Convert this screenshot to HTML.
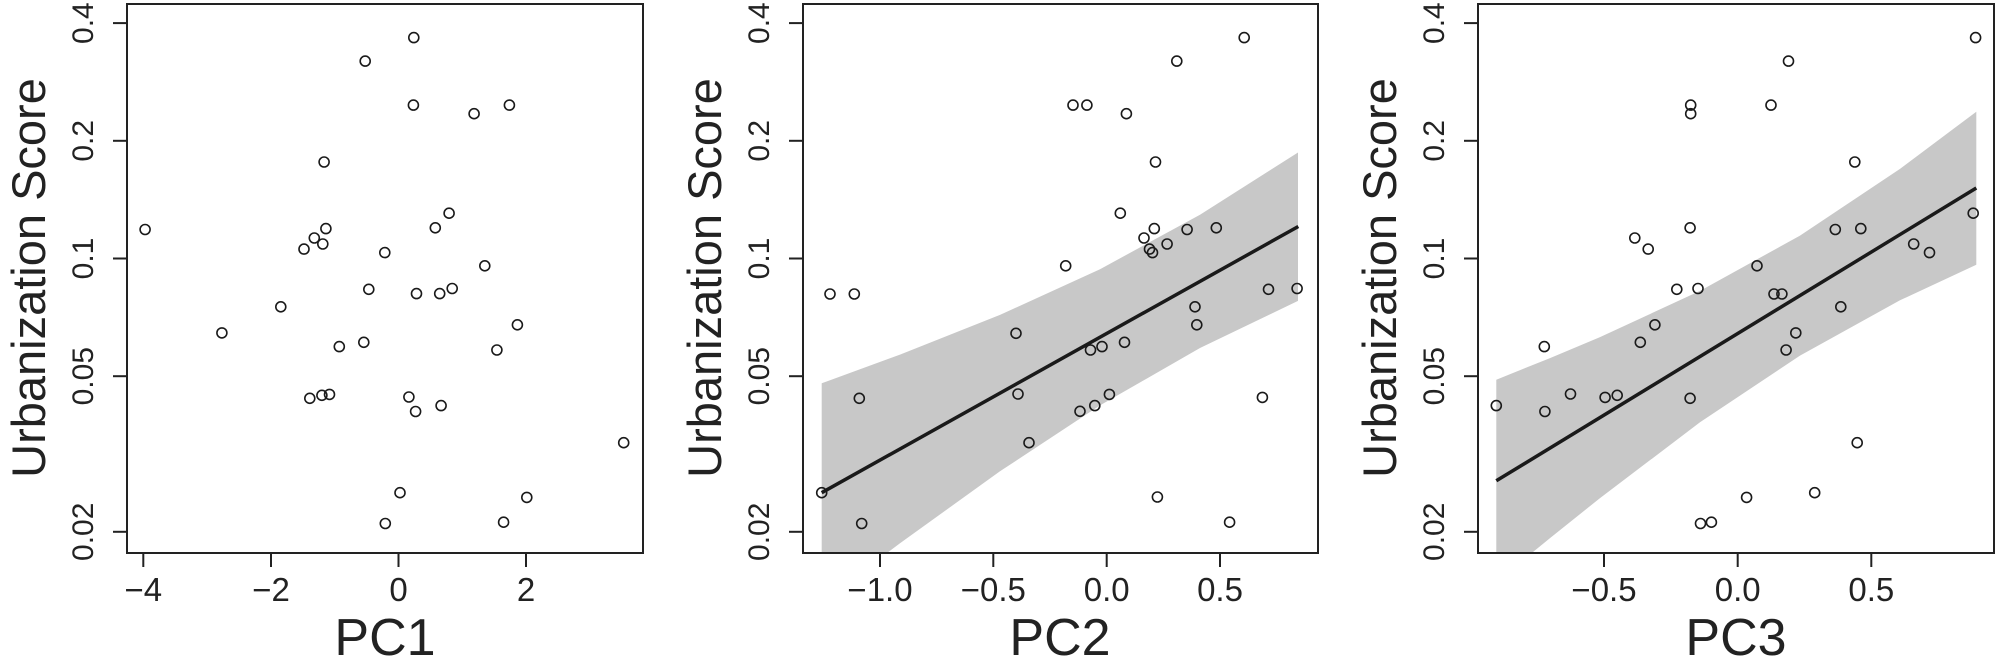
<!DOCTYPE html>
<html><head><meta charset="utf-8"><style>
html,body{margin:0;padding:0;background:#fff;}
svg{display:block;}
text{font-family:"Liberation Sans",Arial,sans-serif;fill:#222;}
.tk{font-size:33px;}
.yt{font-size:30px;}
.ti{font-size:47px;}
.xt{font-size:52px;}
circle{fill:none;stroke:#1a1a1a;stroke-width:1.6;}
</style></head><body>
<svg width="2000" height="670" viewBox="0 0 2000 670" xmlns="http://www.w3.org/2000/svg">
<defs>
<clipPath id="c2"><rect x="803" y="4" width="515" height="549"/></clipPath>
<clipPath id="c3"><rect x="1478" y="4" width="516" height="549"/></clipPath>
</defs>

<!-- Panel 1 -->
<g>
<rect x="127" y="4" width="516" height="549" fill="none" stroke="#222" stroke-width="2"/>
<g stroke="#222" stroke-width="2">
<line x1="113" y1="23.1" x2="127" y2="23.1"/><line x1="113" y1="140.8" x2="127" y2="140.8"/><line x1="113" y1="258.5" x2="127" y2="258.5"/><line x1="113" y1="376.2" x2="127" y2="376.2"/><line x1="113" y1="531.8" x2="127" y2="531.8"/>
<line x1="143.3" y1="553" x2="143.3" y2="567"/><line x1="271" y1="553" x2="271" y2="567"/><line x1="398.5" y1="553" x2="398.5" y2="567"/><line x1="526" y1="553" x2="526" y2="567"/>
</g>
<g class="yt" text-anchor="middle">
<text transform="translate(93,23.1) rotate(-90)">0.4</text>
<text transform="translate(93,140.8) rotate(-90)">0.2</text>
<text transform="translate(93,258.5) rotate(-90)">0.1</text>
<text transform="translate(93,376.2) rotate(-90)">0.05</text>
<text transform="translate(93,531.8) rotate(-90)">0.02</text>
</g>
<g class="tk" text-anchor="middle">
<text x="143.3" y="601">−4</text><text x="271" y="601">−2</text><text x="398.5" y="601">0</text><text x="526" y="601">2</text>
</g>
<text class="ti" text-anchor="middle" transform="translate(45,278) rotate(-90)">Urbanization Score</text>
<text class="xt" text-anchor="middle" x="385" y="655">PC1</text>
<g>
<circle cx="413.8" cy="37.6" r="5"/><circle cx="365.2" cy="61.1" r="5"/><circle cx="413.4" cy="105.1" r="5"/><circle cx="509.4" cy="105.1" r="5"/><circle cx="474.1" cy="113.7" r="5"/><circle cx="324.1" cy="162" r="5"/><circle cx="449.1" cy="213.2" r="5"/><circle cx="435.3" cy="227.8" r="5"/><circle cx="145.1" cy="229.5" r="5"/><circle cx="325.9" cy="228.6" r="5"/><circle cx="314.3" cy="238" r="5"/><circle cx="322.8" cy="244" r="5"/><circle cx="304" cy="249.1" r="5"/><circle cx="384.8" cy="252.6" r="5"/><circle cx="484.8" cy="265.8" r="5"/><circle cx="368.8" cy="289.3" r="5"/><circle cx="416.5" cy="293.6" r="5"/><circle cx="439.7" cy="293.6" r="5"/><circle cx="452.2" cy="288.5" r="5"/><circle cx="280.8" cy="306.8" r="5"/><circle cx="517.4" cy="324.8" r="5"/><circle cx="221.9" cy="332.9" r="5"/><circle cx="363.8" cy="342.3" r="5"/><circle cx="339.3" cy="346.6" r="5"/><circle cx="496.9" cy="350" r="5"/><circle cx="309.8" cy="398.3" r="5"/><circle cx="321.9" cy="395.3" r="5"/><circle cx="329.5" cy="394.4" r="5"/><circle cx="408.9" cy="397" r="5"/><circle cx="415.6" cy="411.5" r="5"/><circle cx="441.1" cy="405.6" r="5"/><circle cx="623.7" cy="442.7" r="5"/><circle cx="400" cy="492.7" r="5"/><circle cx="526.8" cy="497.4" r="5"/><circle cx="385.3" cy="523.5" r="5"/><circle cx="503.6" cy="522.2" r="5"/>
</g>
</g>

<!-- Panel 2 -->
<g>
<g clip-path="url(#c2)">
<polygon fill="#c8c8c8" points="821.7,383.3 900,354.6 1000,314.9 1100,269.2 1200,214.8 1298,152.5 1298,300.9 1200,348 1100,405.4 1000,471.3 900,543.2 821.7,602.1"/>
<line x1="821.7" y1="492.7" x2="1298.3" y2="226.5" stroke="#1a1a1a" stroke-width="3.5"/>
</g>
<rect x="803" y="4" width="515" height="549" fill="none" stroke="#222" stroke-width="2"/>
<g stroke="#222" stroke-width="2">
<line x1="789" y1="23.1" x2="803" y2="23.1"/><line x1="789" y1="140.8" x2="803" y2="140.8"/><line x1="789" y1="258.5" x2="803" y2="258.5"/><line x1="789" y1="376.2" x2="803" y2="376.2"/><line x1="789" y1="531.8" x2="803" y2="531.8"/>
<line x1="880" y1="553" x2="880" y2="567"/><line x1="993.3" y1="553" x2="993.3" y2="567"/><line x1="1106.7" y1="553" x2="1106.7" y2="567"/><line x1="1220" y1="553" x2="1220" y2="567"/>
</g>
<g class="yt" text-anchor="middle">
<text transform="translate(769,23.1) rotate(-90)">0.4</text>
<text transform="translate(769,140.8) rotate(-90)">0.2</text>
<text transform="translate(769,258.5) rotate(-90)">0.1</text>
<text transform="translate(769,376.2) rotate(-90)">0.05</text>
<text transform="translate(769,531.8) rotate(-90)">0.02</text>
</g>
<g class="tk" text-anchor="middle">
<text x="880" y="601">−1.0</text><text x="993.3" y="601">−0.5</text><text x="1106.7" y="601">0.0</text><text x="1220" y="601">0.5</text>
</g>
<text class="ti" text-anchor="middle" transform="translate(721,278) rotate(-90)">Urbanization Score</text>
<text class="xt" text-anchor="middle" x="1060" y="655">PC2</text>
<g>
<circle cx="830" cy="294" r="5"/><circle cx="854.3" cy="294" r="5"/><circle cx="1065.7" cy="265.8" r="5"/><circle cx="1073" cy="105.1" r="5"/><circle cx="1016" cy="333.3" r="5"/><circle cx="859.3" cy="398.3" r="5"/><circle cx="1018" cy="394" r="5"/><circle cx="1029" cy="442.7" r="5"/><circle cx="1080" cy="411.3" r="5"/><circle cx="821.7" cy="492.7" r="5"/><circle cx="861.7" cy="523.5" r="5"/>
<circle cx="1244.2" cy="37.6" r="5"/><circle cx="1176.8" cy="61.1" r="5"/><circle cx="1086.9" cy="105.1" r="5"/><circle cx="1126.4" cy="113.7" r="5"/><circle cx="1155.5" cy="162" r="5"/><circle cx="1120.3" cy="213.2" r="5"/><circle cx="1154.3" cy="228.6" r="5"/><circle cx="1187.1" cy="229.5" r="5"/><circle cx="1216.3" cy="227.8" r="5"/><circle cx="1144" cy="238" r="5"/><circle cx="1167.1" cy="244" r="5"/><circle cx="1149.5" cy="249.1" r="5"/><circle cx="1152.5" cy="252.6" r="5"/><circle cx="1268.5" cy="289.3" r="5"/><circle cx="1297.1" cy="288.5" r="5"/><circle cx="1195" cy="306.8" r="5"/><circle cx="1196.8" cy="324.8" r="5"/><circle cx="1124.5" cy="342.3" r="5"/><circle cx="1090.5" cy="350" r="5"/><circle cx="1102" cy="346.6" r="5"/><circle cx="1262.4" cy="397.4" r="5"/><circle cx="1109.4" cy="394.4" r="5"/><circle cx="1094.8" cy="405.6" r="5"/><circle cx="1157.4" cy="497" r="5"/><circle cx="1229.6" cy="522.2" r="5"/>
</g>
</g>

<!-- Panel 3 -->
<g>
<g clip-path="url(#c3)">
<polygon fill="#c8c8c8" points="1496.3,379.7 1550,358.1 1600,337.1 1700,290.9 1800,235.6 1900,168.9 1976.3,111.7 1976.3,264.7 1900,300.3 1800,355.6 1700,422.3 1600,498.1 1550,538.1 1496.3,582"/>
<line x1="1496.3" y1="480.8" x2="1976.3" y2="188" stroke="#1a1a1a" stroke-width="3.5"/>
</g>
<rect x="1478" y="4" width="516" height="549" fill="none" stroke="#222" stroke-width="2"/>
<g stroke="#222" stroke-width="2">
<line x1="1464" y1="23.1" x2="1478" y2="23.1"/><line x1="1464" y1="140.8" x2="1478" y2="140.8"/><line x1="1464" y1="258.5" x2="1478" y2="258.5"/><line x1="1464" y1="376.2" x2="1478" y2="376.2"/><line x1="1464" y1="531.8" x2="1478" y2="531.8"/>
<line x1="1604" y1="553" x2="1604" y2="567"/><line x1="1737.7" y1="553" x2="1737.7" y2="567"/><line x1="1871.3" y1="553" x2="1871.3" y2="567"/>
</g>
<g class="yt" text-anchor="middle">
<text transform="translate(1444,23.1) rotate(-90)">0.4</text>
<text transform="translate(1444,140.8) rotate(-90)">0.2</text>
<text transform="translate(1444,258.5) rotate(-90)">0.1</text>
<text transform="translate(1444,376.2) rotate(-90)">0.05</text>
<text transform="translate(1444,531.8) rotate(-90)">0.02</text>
</g>
<g class="tk" text-anchor="middle">
<text x="1604" y="601">−0.5</text><text x="1737.7" y="601">0.0</text><text x="1871.3" y="601">0.5</text>
</g>
<text class="ti" text-anchor="middle" transform="translate(1396,278) rotate(-90)">Urbanization Score</text>
<text class="xt" text-anchor="middle" x="1736" y="655">PC3</text>
<g>
<circle cx="1975.6" cy="37.6" r="5"/><circle cx="1788.5" cy="61.1" r="5"/><circle cx="1690.7" cy="105.1" r="5"/><circle cx="1690.7" cy="113.7" r="5"/><circle cx="1771" cy="105.1" r="5"/><circle cx="1854.8" cy="162" r="5"/><circle cx="1973.2" cy="213.2" r="5"/><circle cx="1690.1" cy="227.8" r="5"/><circle cx="1835.3" cy="229.5" r="5"/><circle cx="1860.8" cy="228.6" r="5"/><circle cx="1634.8" cy="238" r="5"/><circle cx="1913.7" cy="244" r="5"/><circle cx="1648.2" cy="249.1" r="5"/><circle cx="1929.5" cy="252.6" r="5"/><circle cx="1757" cy="265.8" r="5"/><circle cx="1676.8" cy="289.3" r="5"/><circle cx="1698" cy="288.5" r="5"/><circle cx="1774" cy="294" r="5"/><circle cx="1781.9" cy="294" r="5"/><circle cx="1840.8" cy="306.8" r="5"/><circle cx="1654.9" cy="324.8" r="5"/><circle cx="1795.8" cy="332.9" r="5"/><circle cx="1640.3" cy="342.3" r="5"/><circle cx="1544.3" cy="346.6" r="5"/><circle cx="1786.1" cy="350" r="5"/><circle cx="1570.5" cy="394" r="5"/><circle cx="1605.1" cy="397.4" r="5"/><circle cx="1617.2" cy="395.3" r="5"/><circle cx="1690.1" cy="398.3" r="5"/><circle cx="1496.3" cy="405.6" r="5"/><circle cx="1544.9" cy="411.5" r="5"/><circle cx="1857.2" cy="442.7" r="5"/><circle cx="1814.7" cy="492.7" r="5"/><circle cx="1746.6" cy="497.4" r="5"/><circle cx="1700.5" cy="523.5" r="5"/><circle cx="1711.4" cy="522.2" r="5"/>
</g>
</g>
</svg>
</body></html>
